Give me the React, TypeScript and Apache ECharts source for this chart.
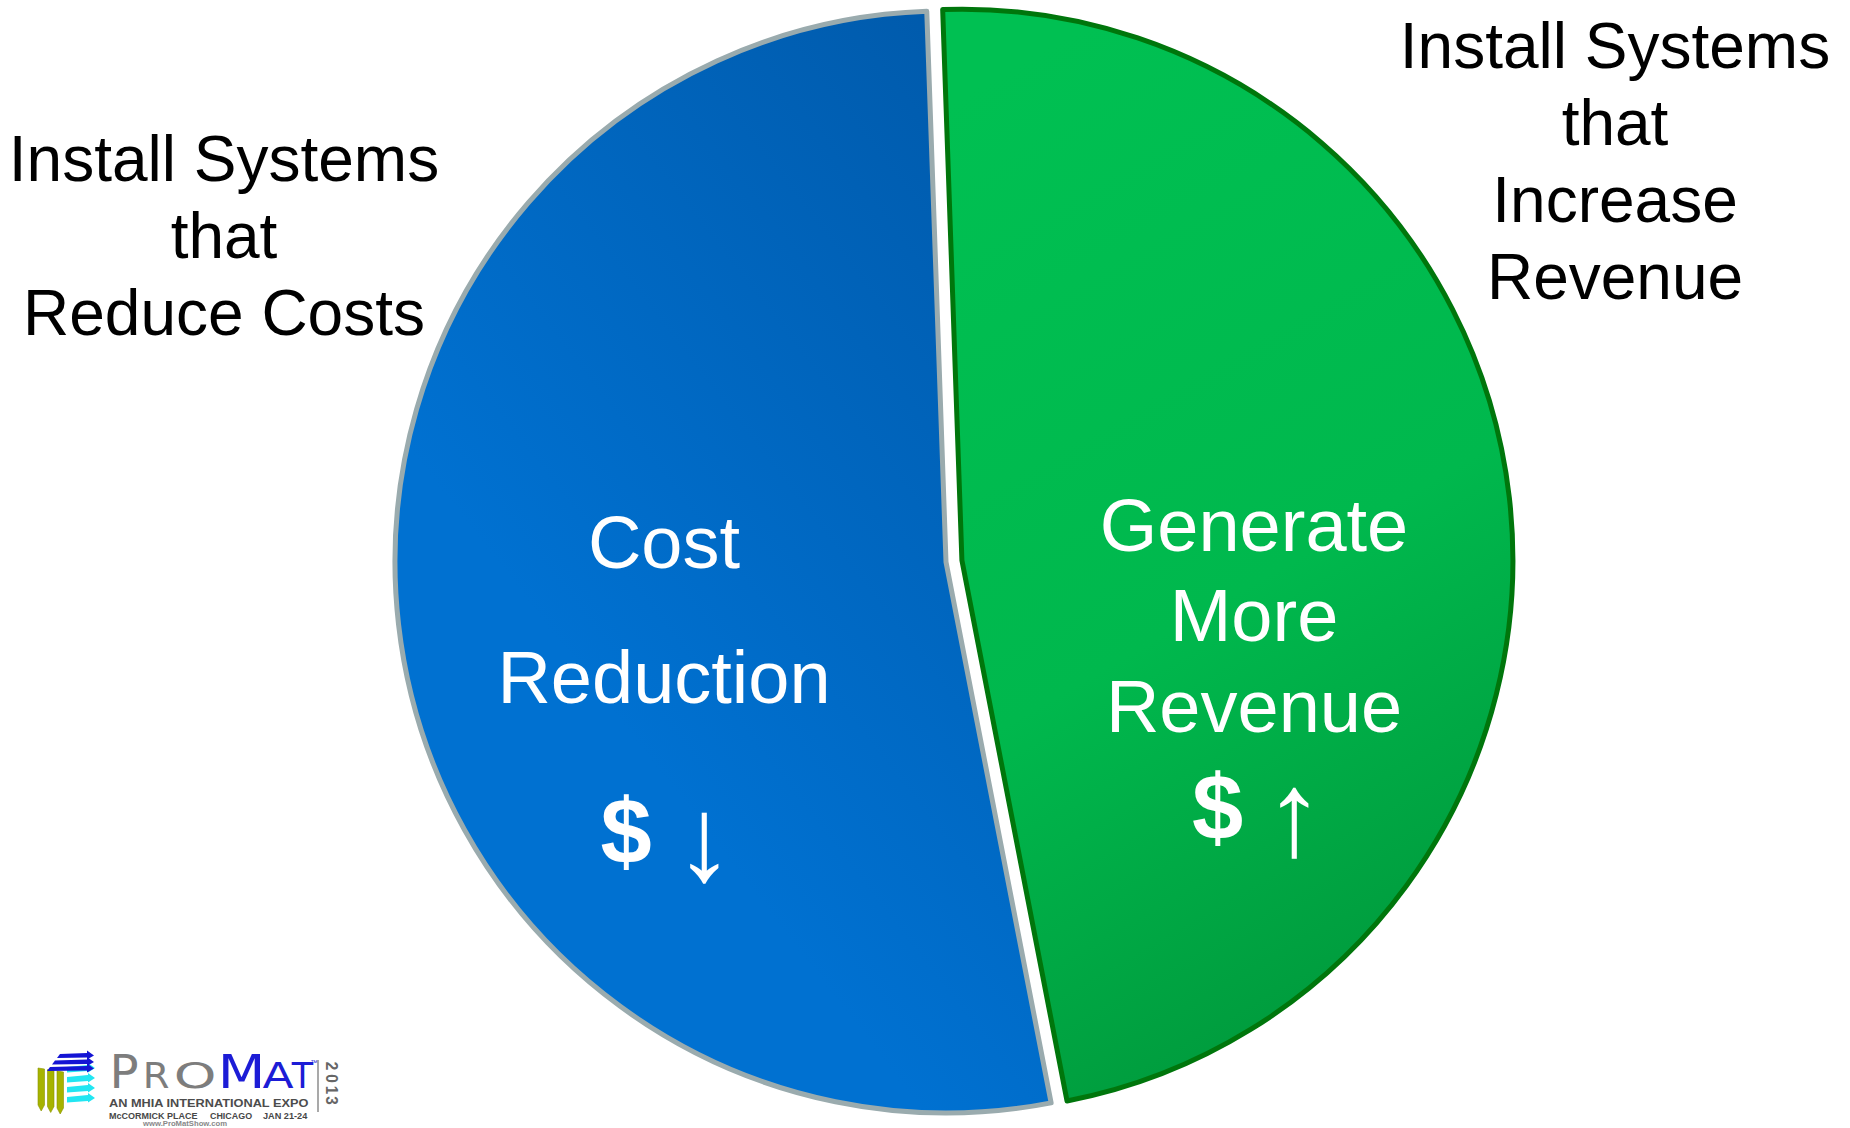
import React, { useEffect, useRef } from 'react';
import * as echarts from 'echarts';

const sliceNames = ['Generate More Revenue', 'Cost Reduction'];
const sliceValues = [47.5, 52.5];
const sliceTextLines = [['Generate', 'More', 'Revenue'], ['Cost', 'Reduction']];
const sliceSigns = ['$', '$'];
const sliceArrows = ['\u2191', '\u2193'];
const sideNotes = [
  ['Install Systems', 'that', 'Increase', 'Revenue'],
  ['Install Systems', 'that', 'Reduce Costs'],
];
const logoWord = ['P', 'R', 'O', 'M', 'A', 'T'];
const logoYear = ['2', '0', '1', '3'];
const logoLines = ['AN MHIA INTERNATIONAL EXPO', 'McCORMICK PLACE', 'CHICAGO', 'JAN 21-24', 'www.ProMatShow.com'];

const FONT = '"Liberation Sans", Arial, Helvetica, sans-serif';

function txt(text: string, x: number, y: number, extra: any = {}, el: any = {}) {
  return {
    type: 'text',
    z: 100,
    ...el,
    style: {
      text,
      x,
      y,
      fill: '#ffffff',
      fontFamily: FONT,
      align: 'center',
      textAlign: 'center',
      verticalAlign: 'middle',
      textVerticalAlign: 'middle',
      ...extra,
    },
  };
}

function buildOption() {
  const blueFill = new echarts.graphic.LinearGradient(0.85, 0, 0.35, 0.65, [
    { offset: 0, color: '#005aab' },
    { offset: 1, color: '#0071d1' },
  ]);
  const greenFill = new echarts.graphic.LinearGradient(0.3, 0, 0.6, 1, [
    { offset: 0, color: '#00c052' },
    { offset: 0.55, color: '#00b84d' },
    { offset: 1, color: '#00983b' },
  ]);
  const styles = [
    { color: greenFill, borderColor: '#00760c', borderWidth: 5 },
    { color: blueFill, borderColor: '#9aabae', borderWidth: 5 },
  ];

  const data = sliceNames.map((name, i) => ({
    name,
    value: sliceValues[i],
    selected: i === 0,
    itemStyle: styles[i],
    select: { itemStyle: styles[i] },
  }));

  const graphics: any[] = [];

  // in-slice labels
  const lineCx = [1254, 664];
  const lineCy = [[525, 615, 706], [542, 677]];
  const signPos = [[1217.5, 807], [626, 831]];
  const arrowPos = [[1294.5, 812.5], [704.5, 837.5]];
  sliceTextLines.forEach((lines, i) => {
    lines.forEach((l, j) => {
      graphics.push(txt(l, lineCx[i], lineCy[i][j], { fontSize: 74 }));
    });
    graphics.push(txt(sliceSigns[i], signPos[i][0], signPos[i][1], { fontSize: 92, fontWeight: 'bold' }));
    graphics.push(txt(sliceArrows[i], arrowPos[i][0], arrowPos[i][1], { fontSize: 120, fontWeight: 'normal' }));
  });

  // side notes
  graphics.push(txt(sideNotes[0].join('\n'), 1615, 161.5, { fill: '#000000', fontSize: 64, lineHeight: 77 }));
  graphics.push(txt(sideNotes[1].join('\n'), 224, 236, { fill: '#000000', fontSize: 64, lineHeight: 77 }));

  // logo icon
  const yg = '#a6b300';
  const cyan = '#22e6f2';
  const blue = '#1414d4';
  [0, 1, 2].forEach((i) => {
    const x = 38 + i * 9.5;
    const top = 1068 + i * 1.5;
    const bot = 1105 + i * 1.5;
    graphics.push({
      type: 'polygon',
      z: 100,
      shape: { points: [[x, top], [x + 6.5, top + 1], [x + 6.5, bot], [x + 3.2, bot + 6], [x, bot]] },
      style: { fill: yg, stroke: '#8a9400', lineWidth: 0.6 },
    });
  });
  [0, 1, 2, 3].forEach((i) => {
    const y = 1066 + i * 10;
    graphics.push({
      type: 'polygon',
      z: 100,
      shape: { points: [[67, y + 1], [88, y - 1], [88, y - 3], [95, y + 2], [88, y + 6.5], [88, y + 5], [67, y + 6.5]] },
      style: { fill: cyan },
    });
  });
  [0, 1, 2].forEach((i) => {
    const y = 1054 + i * 6.5;
    const x0 = 60 - i * 5;
    graphics.push({
      type: 'polygon',
      z: 100,
      shape: { points: [[x0, y], [87, y - 1], [87, y - 3.5], [94, y + 1.5], [87, y + 5.5], [87, y + 3.5], [x0 - 3, y + 4]] },
      style: { fill: blue },
    });
  });

  // logo word
  const letterCx = [124, 156, 195, 241.5, 278, 302.5];
  const letterSize = [46, 35, 35, 46, 35, 35];
  const letterColor = ['#7d7d7d', '#7d7d7d', '#7d7d7d', '#1c1cd6', '#1c1cd6', '#1c1cd6'];
  const letterScale = [1.05, 1.1, 1.55, 1.2, 1.3, 1.0];
  logoWord.forEach((ch, i) => {
    graphics.push(
      txt(
        ch,
        0,
        0,
        { fill: letterColor[i], fontSize: letterSize[i], fontFamily: '"DejaVu Sans", "Liberation Sans", sans-serif' },
        { x: letterCx[i], y: 1088 - 0.3465 * letterSize[i], scaleX: letterScale[i] }
      )
    );
  });
  graphics.push(txt('\u2122', 314, 1062, { fill: '#1c1cd6', fontSize: 7 }));
  graphics.push({
    type: 'line',
    z: 100,
    shape: { x1: 318, y1: 1060, x2: 318, y2: 1112 },
    style: { stroke: '#8c8c8c', lineWidth: 1.5 },
  });
  const yearY = [1066, 1078.5, 1090, 1100.5];
  logoYear.forEach((d, i) => {
    graphics.push(
      txt(d, 0, 0, { fill: '#666666', fontSize: 17, fontWeight: 'bold' }, { x: 332, y: yearY[i], rotation: -Math.PI / 2, scaleX: 0.9 })
    );
  });
  const lineX = [109, 109, 210, 263, 143];
  const lineY = [1103, 1116, 1116, 1116, 1124];
  const lineSize = [11.5, 8.5, 8.5, 8.5, 7];
  const lineScale = [1.11, 1.06, 1.05, 1.08, 1.1];
  const lineColor = ['#4c4c4c', '#474747', '#474747', '#474747', '#888888'];
  logoLines.forEach((t, i) => {
    graphics.push(
      txt(
        t,
        0,
        0,
        { fill: lineColor[i], fontSize: lineSize[i], fontWeight: 'bold', align: 'left', textAlign: 'left' },
        { x: lineX[i], y: lineY[i], scaleX: lineScale[i] }
      )
    );
  });

  return {
    animation: false,
    backgroundColor: '#ffffff',
    series: [
      {
        type: 'pie',
        z: 2,
        center: [946, 562],
        radius: 551,
        startAngle: 92,
        clockwise: true,
        selectedMode: 'single',
        selectedOffset: 16,
        emphasis: { disabled: true },
        label: { show: false },
        labelLine: { show: false },
        data,
      },
    ],
    graphic: { elements: graphics },
  };
}

export default function App() {
  const ref = useRef<HTMLDivElement>(null);
  useEffect(() => {
    document.body.style.margin = '0';
    if (!ref.current) return;
    const chart = echarts.init(ref.current, undefined, { renderer: 'svg' });
    chart.setOption(buildOption() as any);
    return () => {
      chart.dispose();
    };
  }, []);
  return <div ref={ref} style={{ width: 1850, height: 1128 }} />;
}
